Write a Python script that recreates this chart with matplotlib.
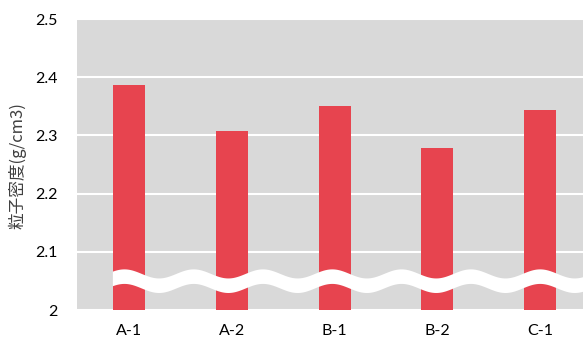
import numpy as np
import matplotlib
matplotlib.use("Agg")
import matplotlib.pyplot as plt

plt.rcParams['font.family'] = ['Noto Sans CJK JP', 'DejaVu Sans']

categories = ["A-1", "A-2", "B-1", "B-2", "C-1"]
values = [2.386, 2.307, 2.350, 2.278, 2.343]
yticks = [2.0, 2.1, 2.2, 2.3, 2.4, 2.5]
ytick_labels = ["2", "2.1", "2.2", "2.3", "2.4", "2.5"]
ylabel = "粒子密度(g/cm3)"

fig = plt.figure(figsize=(5.83, 3.40), dpi=100)
ax = fig.add_axes([0.132, 0.088, 0.868, 0.856])
ax.set_facecolor("#D9D9D9")

x = np.arange(len(categories))
ax.bar(x, [v - 2.0 for v in values], bottom=2.0, width=0.31, color="#E7444F", zorder=2)

ax.set_ylim(2.0, 2.5)
ax.set_xlim(-0.51, 4.42)
ax.set_yticks(yticks)
ax.set_yticklabels(ytick_labels, family=['Lato', 'DejaVu Sans'], fontsize=11.5)
ax.set_xticks(x)
ax.set_xticklabels(categories, family=['Lato', 'DejaVu Sans'], fontsize=11.5)
ax.yaxis.grid(True, color="white", linewidth=1.5, zorder=1)
ax.set_axisbelow(True)
for s in ax.spines.values():
    s.set_visible(False)
ax.tick_params(axis='both', length=0, colors="#000000")
ax.tick_params(axis='y', pad=14)
ax.tick_params(axis='x', pad=10)
ax.set_ylabel(ylabel, fontsize=12, color="#404040", va='center')
ax.yaxis.set_label_coords(-0.117, 0.495)

# axis break wave
xs = np.linspace(-0.165, 4.42, 600)
period = 0.675
top = 2.063 + 0.0078 * np.sin(2 * np.pi * (xs - 0.623) / period + np.pi / 2)
ax.fill_between(xs, top - 0.025, top, color="white", zorder=3, linewidth=0)

fig.savefig("out.png", dpi=100)
